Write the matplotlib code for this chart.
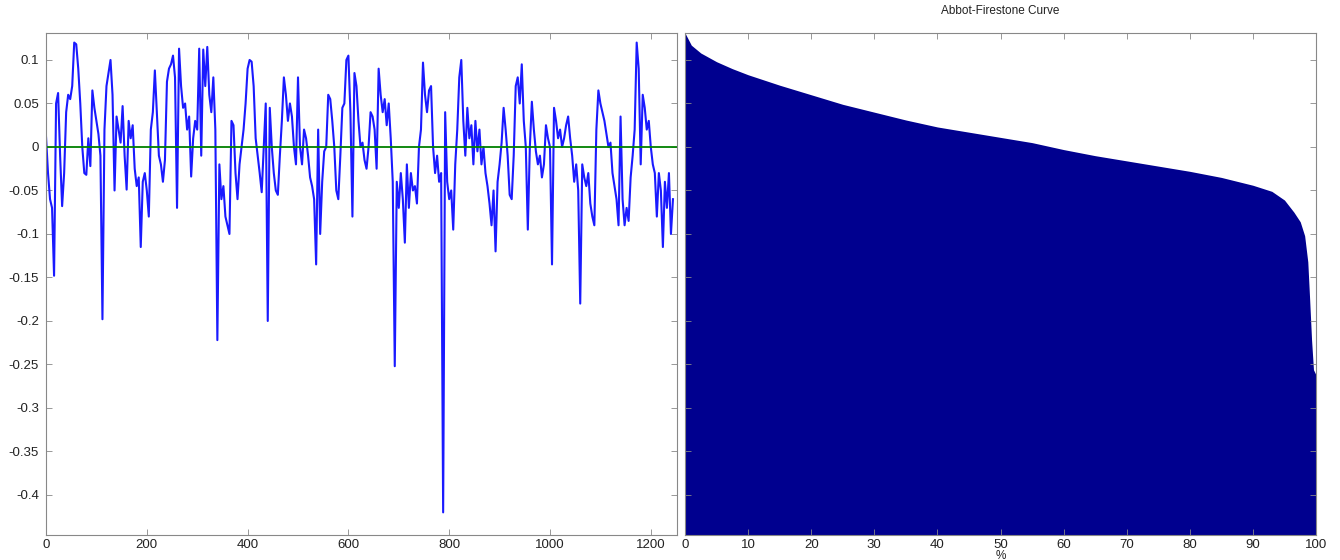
import numpy as np
import matplotlib
matplotlib.use("Agg")
import matplotlib.pyplot as plt

plt.rcParams['font.family'] = ['Liberation Sans', 'DejaVu Sans']

# roughness profile, one sample every 4 points
step = 4
profile = [
    0.012, -0.03, -0.06, -0.07, -0.148, 0.05, 0.062, -0.01, -0.068, -0.03,
    0.04, 0.06, 0.055, 0.07, 0.12, 0.118, 0.09, 0.05, 0.0, -0.03,
    -0.032, 0.01, -0.022, 0.065, 0.045, 0.03, 0.015, -0.01, -0.198, 0.02,
    0.07, 0.085, 0.1, 0.06, -0.05, 0.035, 0.02, 0.005, 0.047, -0.01,
    -0.049, 0.03, 0.01, 0.025, -0.025, -0.045, -0.035, -0.115, -0.04, -0.03,
    -0.05, -0.08, 0.02, 0.04, 0.088, 0.04, -0.01, -0.02, -0.04, -0.015,
    0.075, 0.09, 0.095, 0.105, 0.08, -0.07, 0.113, 0.07, 0.045, 0.05,
    0.02, 0.035, -0.034, 0.01, 0.03, 0.02, 0.113, -0.01, 0.112,
    0.07, 0.115, 0.06, 0.04, 0.08, 0.02, -0.222, -0.02, -0.06, -0.045,
    -0.08, -0.09, -0.1, 0.03, 0.025, -0.03, -0.06, -0.02, 0.0, 0.02,
    0.05, 0.09, 0.1, 0.098, 0.07, 0.01, -0.01, -0.03, -0.052, 0.0,
    0.05, -0.2, 0.045, 0.0, -0.03, -0.05, -0.055, -0.01, 0.03, 0.08,
    0.06, 0.03, 0.05, 0.035, 0.0, -0.02, 0.08, 0.0, -0.02, 0.02,
    0.01, -0.01, -0.035, -0.045, -0.06, -0.135, 0.02, -0.1, -0.04, -0.005,
    0.0, 0.06, 0.055, 0.03, 0.0, -0.05, -0.06, -0.01, 0.045, 0.05,
    0.1, 0.105, 0.04, -0.08, 0.085, 0.07, 0.03, 0.0,
    0.005, -0.015, -0.025, 0.0, 0.04, 0.035, 0.02, -0.025, 0.09, 0.06,
    0.04, 0.055, 0.025, 0.05, 0.01, -0.04, -0.252, -0.04, -0.07, -0.03,
    -0.06, -0.11, -0.02, -0.07, -0.03, -0.05, -0.045, -0.065, 0.0, 0.02,
    0.097, 0.06, 0.04, 0.065, 0.07, 0.0, -0.03, -0.01, -0.04, -0.03,
    -0.42, 0.04, -0.04, -0.06, -0.05, -0.095, -0.02, 0.02, 0.08, 0.1,
    0.03, -0.01, 0.045, 0.01, 0.025, -0.02, 0.03, -0.005, 0.02, -0.02,
    0.0, -0.03, -0.045, -0.065, -0.09, -0.05, -0.12, -0.04, -0.02, 0.005,
    0.045, 0.02, -0.01, -0.055, -0.06, -0.01, 0.07, 0.08,
    0.05, 0.095, 0.03, 0.0, -0.095, 0.0, 0.052, 0.02, -0.005, -0.02,
    -0.01, -0.035, -0.02, 0.025, 0.01, 0.0, -0.135, 0.045, 0.03, 0.01,
    0.02, 0.0, 0.01, 0.025, 0.035, 0.01, -0.01, -0.04, -0.02, -0.05,
    -0.18, -0.02, -0.035, -0.045, -0.03, -0.065, -0.08, -0.09, 0.02, 0.065,
    0.05, 0.04, 0.03, 0.015, 0.0, 0.005, -0.03, -0.045, -0.06, -0.09,
    0.035, -0.06, -0.09, -0.07, -0.085, -0.035, -0.01, 0.02, 0.12, 0.09,
    -0.02, 0.06, 0.045, 0.02, 0.03, 0.0, -0.02, -0.03, -0.08, -0.03,
    -0.05, -0.115, -0.04, -0.07, -0.03, -0.1, -0.06,
]
mean_level = 0.0

# Abbott-Firestone (bearing) curve
bearing_pct = [0, 1, 2.5, 5, 7.5, 10, 15, 20, 25, 30, 35, 40, 45, 50, 55, 60,
               65, 70, 75, 80, 85, 90, 93, 95, 96.5, 97.5, 98.2, 98.7, 99.0,
               99.3, 99.6, 100]
bearing_height = [0.131, 0.117, 0.108, 0.098, 0.090, 0.083, 0.071, 0.060,
                  0.049, 0.040, 0.031, 0.023, 0.017, 0.011, 0.005, -0.003,
                  -0.010, -0.016, -0.022, -0.028, -0.035, -0.044, -0.051,
                  -0.061, -0.075, -0.086, -0.102, -0.132, -0.176, -0.222,
                  -0.256, -0.262]

y_ticks = [0.1, 0.05, 0, -0.05, -0.1, -0.15, -0.2, -0.25, -0.3, -0.35, -0.4]
y_lim = (-0.446, 0.131)

profile = np.array(profile)
xs = np.arange(len(profile)) * step

fig = plt.figure(figsize=(13.4, 5.6), dpi=100)
ax1 = fig.add_axes([46/1340, 25/560, 631/1340, 502/560])
ax2 = fig.add_axes([685/1340, 25/560, 631/1340, 502/560])

ax1.plot(xs, profile, color='#1a1aff', lw=1.5)
ax1.axhline(mean_level, color='#008000', lw=1.3)
ax1.set_xlim(0, 1252)
ax1.set_ylim(*y_lim)
ax1.set_xticks(range(0, 1201, 200))
ax1.set_yticks(y_ticks)
ax1.set_yticklabels([('%g' % t) for t in y_ticks])

ax2.fill_between(bearing_pct, bearing_height, y_lim[0], color='#00008f', lw=0)
ax2.set_xlim(0, 100)
ax2.set_ylim(*y_lim)
ax2.set_xticks(range(0, 101, 10))
ax2.set_yticks(y_ticks)
ax2.set_yticklabels([])
ax2.set_title('Abbot-Firestone Curve', fontsize=8.5, color='#222222', pad=14)
ax2.set_xlabel('%', fontsize=8.5, color='#222222', labelpad=-1)

for ax in (ax1, ax2):
    ax.tick_params(direction='in', length=4, width=0.6, colors='#888888',
                   labelcolor='#222222', labelsize=9.5, top=True, right=True,
                   pad=5)
    ax.tick_params(axis='x', pad=3)
    for s in ax.spines.values():
        s.set_color('#888888')
        s.set_linewidth(0.8)

fig.savefig('out.png', dpi=100)
